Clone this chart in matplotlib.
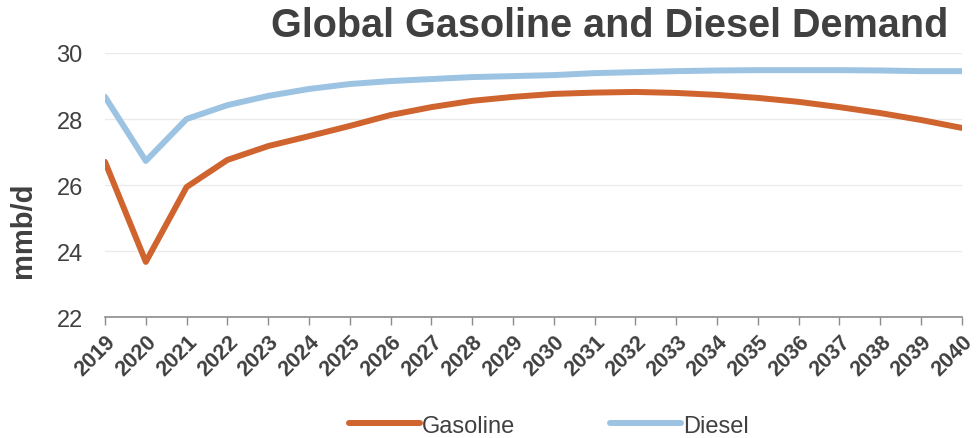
import matplotlib.pyplot as plt
import numpy as np

years = list(range(2019, 2041))
gasoline = [26.7, 23.67, 25.94, 26.76, 27.18, 27.48, 27.79, 28.12, 28.36, 28.55, 28.67,
            28.76, 28.80, 28.82, 28.79, 28.73, 28.64, 28.52, 28.36, 28.18, 27.97, 27.73]
diesel = [28.67, 26.73, 28.0, 28.42, 28.70, 28.91, 29.06, 29.15, 29.21, 29.27, 29.30,
          29.33, 29.39, 29.42, 29.45, 29.47, 29.48, 29.48, 29.48, 29.47, 29.45, 29.45]

plt.rcParams["font.family"] = ["Liberation Sans", "DejaVu Sans"]
text_color = "#404040"

fig = plt.figure(figsize=(9.77, 4.39), dpi=100)
ax = fig.add_axes([0.1075, 0.2756, 0.877, 0.6014])

ax.plot(years, gasoline, color="#D0642F", linewidth=4.3, label="Gasoline", solid_capstyle="round")
ax.plot(years, diesel, color="#9DC3E3", linewidth=4.3, label="Diesel", solid_capstyle="round")

ax.set_xlim(2019, 2040)
ax.set_ylim(22, 30)
ax.set_yticks([22, 24, 26, 28, 30])
ax.set_xticks(years)
ax.set_xticklabels([str(y) for y in years], rotation=45, ha="right", rotation_mode="anchor",
                   fontweight="bold", fontsize=15.5, color=text_color)
ax.tick_params(axis="y", length=0, labelsize=17, labelcolor=text_color, pad=16)
ax.tick_params(axis="x", length=6, color="#8C8C8C", width=1, pad=4)
ax.grid(axis="y", color="#EBEBEB", linewidth=1)
ax.set_axisbelow(True)
for side in ["left", "right", "top"]:
    ax.spines[side].set_visible(False)
ax.spines["bottom"].set_color("#8C8C8C")
ax.spines["bottom"].set_linewidth(1.2)

fig.text(0.024, 0.476, "mmb/d", rotation=90, ha="center", va="center",
         fontsize=21, fontweight="bold", color=text_color)
fig.text(0.971, 0.94, "Global Gasoline and Diesel Demand", ha="right", va="center",
         fontsize=28.5, fontweight="bold", color=text_color)

fig.legend(loc="center", bbox_to_anchor=(0.562, 0.028), ncol=2, frameon=False,
           fontsize=17, handlelength=3.0, handletextpad=0.1, columnspacing=4.0,
           labelcolor=text_color)

fig.savefig("out.png", dpi=100)
